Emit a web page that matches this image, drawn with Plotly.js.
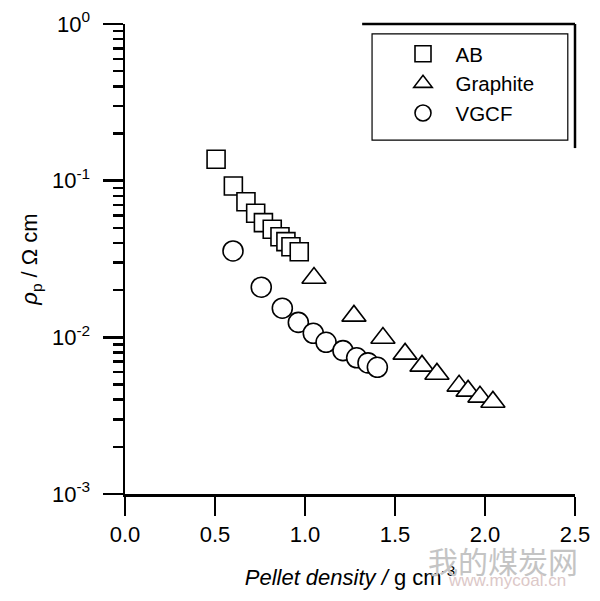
<!DOCTYPE html>
<html>
<head>
<meta charset="utf-8">
<script src="https://cdn.plot.ly/plotly-3.0.1.min.js"></script>
<style>html,body{margin:0;padding:0;background:#fff;}#chart{width:600px;height:601px;}</style>
</head>
<body>
<div id="chart"></div>
<script>
// Data
const abDensity = [0.506, 0.602, 0.672, 0.726, 0.769, 0.818, 0.861, 0.894, 0.922, 0.968];
const abRho     = [0.137, 0.0925, 0.0734, 0.0619, 0.054, 0.049, 0.0439, 0.0408, 0.0379, 0.0352];

const graphiteDensity = [1.05, 1.272, 1.433, 1.556, 1.65, 1.733, 1.856, 1.906, 1.972, 2.044];
const graphiteRho     = [0.0239, 0.0137, 0.00991, 0.00784, 0.00657, 0.00584, 0.0049, 0.00455, 0.00417, 0.00387];

const vgcfDensity = [0.6, 0.757, 0.874, 0.963, 1.046, 1.117, 1.211, 1.287, 1.35, 1.402];
const vgcfRho     = [0.0356, 0.0209, 0.01534, 0.01245, 0.01062, 0.0093, 0.00822, 0.0074, 0.00687, 0.00644];

const seriesNames = ["AB", "Graphite", "VGCF"];
const xTickVals = [0, 0.5, 1.0, 1.5, 2.0, 2.5];
const xTickText = ["0.0", "0.5", "1.0", "1.5", "2.0", "2.5"];
const yTickVals = [1, 0.1, 0.01, 0.001];
const yTickText = ["10<sup>0</sup>", "10<sup>-1</sup>", "10<sup>-2</sup>", "10<sup>-3</sup>"];

const FONT = "Liberation Sans, Arial, sans-serif";

function mk(symbol, size) {
  return {symbol: symbol, size: size, color: "rgba(255,255,255,1)", line: {color: "#000", width: 1.6}};
}

const traces = [
  {x: abDensity, y: abRho, name: seriesNames[0], type: "scatter", mode: "markers", marker: mk("square", 18)},
  {x: graphiteDensity, y: graphiteRho, name: seriesNames[1], type: "scatter", mode: "markers", marker: mk("triangle-up", 21)},
  {x: vgcfDensity, y: vgcfRho, name: seriesNames[2], type: "scatter", mode: "markers", marker: mk("circle", 20)}
];

const layout = {
  width: 600, height: 601,
  margin: {l: 125, r: 25, t: 24, b: 107},
  paper_bgcolor: "#fff", plot_bgcolor: "#fff",
  font: {family: FONT, size: 22, color: "#000"},
  showlegend: true,
  legend: {
    x: 0.59, y: 0.979, xanchor: "left", yanchor: "top",
    bgcolor: "rgba(0,0,0,0)", borderwidth: 0,
    font: {family: FONT, size: 20.5, color: "#000"},
    itemwidth: 55
  },
  xaxis: {
    range: [0, 2.5],
    tickvals: xTickVals, ticktext: xTickText,
    ticks: "outside", ticklen: 19, tickwidth: 2.5, tickcolor: "#000",
    showline: true, linewidth: 2.5, linecolor: "#000",
    showgrid: false, zeroline: false,
    tickfont: {family: FONT, size: 22},
    title: {text: "<i>Pellet density / </i>g cm<sup>-3</sup>", font: {family: FONT, size: 22}, standoff: 24}
  },
  yaxis: {
    type: "log", range: [-3, 0],
    tickvals: yTickVals, ticktext: yTickText,
    ticks: "outside", ticklen: 20, tickwidth: 2.5, tickcolor: "#000",
    minor: {ticks: "outside", ticklen: 10, tickwidth: 2.5, tickcolor: "#000", dtick: "D1", showgrid: false},
    showline: true, linewidth: 2.5, linecolor: "#000",
    showgrid: false, zeroline: false,
    tickfont: {family: FONT, size: 22},
    ticklabelstandoff: 8,
    title: {text: "<i>ρ</i><sub>p</sub> / Ω cm", font: {family: FONT, size: 22}, standoff: 8}
  },
  shapes: [
    {type: "rect", xref: "paper", yref: "paper", x0: 0.549, x1: 0.984, y0: 0.753, y1: 0.979, line: {color: "#000", width: 1.2}},
    {type: "line", xref: "paper", yref: "paper", x0: 0.527, x1: 1.0, y0: 1.0, y1: 1.0, line: {color: "#000", width: 2.5}},
    {type: "line", xref: "paper", yref: "paper", x0: 1.0, x1: 1.0, y0: 1.0, y1: 0.736, line: {color: "#000", width: 2.5}}
  ],
  annotations: [
    {text: "我的煤炭网", xref: "paper", yref: "paper", x: 0.84, y: -0.140, xanchor: "center", yanchor: "middle", showarrow: false,
     font: {family: "Noto Sans CJK SC", size: 30, color: "#c4c4c4"}},
    {text: "www.mycoal.cn", xref: "paper", yref: "paper", x: 0.849, y: -0.183, xanchor: "center", yanchor: "middle", showarrow: false,
     font: {family: FONT, size: 17, color: "#dcc8c8"}}
  ]
};

Plotly.newPlot("chart", traces, layout, {displayModeBar: false, staticPlot: true});
</script>
</body>
</html>
